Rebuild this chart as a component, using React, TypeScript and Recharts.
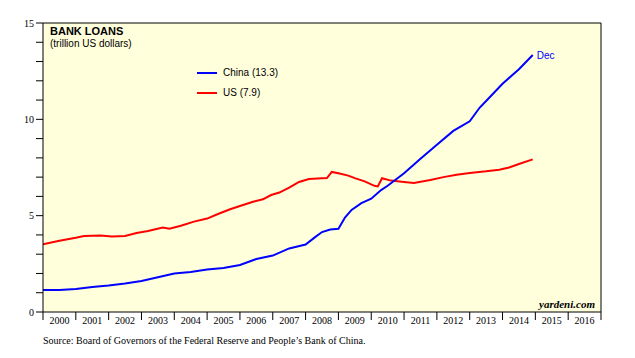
import React from 'react';
import {
  LineChart,
  Line,
  XAxis,
  YAxis,
  ReferenceArea,
  ReferenceLine,
  ReferenceDot,
} from 'recharts';

// Bank loans, trillion US dollars (decimal year -> value)
const chinaDates = [
  2000.0, 2000.5, 2001.0, 2001.5, 2002.0, 2002.5, 2003.0, 2003.5, 2004.0, 2004.5,
  2005.0, 2005.5, 2006.0, 2006.5, 2007.0, 2007.5, 2008.0, 2008.3, 2008.5, 2008.75,
  2009.0, 2009.2, 2009.4, 2009.7, 2010.0, 2010.3, 2010.5, 2011.0, 2011.5, 2012.0,
  2012.5, 2013.0, 2013.3, 2013.5, 2014.0, 2014.5, 2014.92,
];
const chinaLoans = [
  1.14, 1.14, 1.2, 1.3, 1.38, 1.48, 1.61, 1.8, 2.0, 2.08,
  2.2, 2.28, 2.44, 2.75, 2.93, 3.3, 3.5, 3.9, 4.15, 4.28,
  4.32, 4.9, 5.3, 5.65, 5.88, 6.33, 6.55, 7.2, 7.95, 8.68,
  9.4, 9.9, 10.6, 10.95, 11.85, 12.6, 13.34,
];

const usDates = [
  2000.0, 2000.5, 2001.0, 2001.25, 2001.75, 2002.1, 2002.5, 2002.85, 2003.2, 2003.65,
  2003.85, 2004.2, 2004.6, 2005.0, 2005.35, 2005.7, 2006.0, 2006.4, 2006.7, 2006.95,
  2007.2, 2007.5, 2007.8, 2008.1, 2008.5, 2008.65, 2008.8, 2009.0, 2009.3, 2009.5,
  2009.8, 2010.0, 2010.1, 2010.2, 2010.33, 2010.6, 2011.0, 2011.3, 2011.8, 2012.2,
  2012.6, 2013.0, 2013.5, 2013.9, 2014.2, 2014.5, 2014.92,
];
const usLoans = [
  3.52, 3.7, 3.85, 3.94, 3.97, 3.92, 3.95, 4.1, 4.2, 4.39,
  4.32, 4.48, 4.69, 4.85, 5.1, 5.33, 5.5, 5.72, 5.85, 6.07,
  6.2, 6.45, 6.75, 6.9, 6.94, 6.95, 7.27, 7.2, 7.08, 6.95,
  6.78, 6.62, 6.55, 6.52, 6.94, 6.82, 6.75, 6.7, 6.85, 7.0,
  7.12, 7.22, 7.3, 7.38, 7.5, 7.68, 7.92,
];

const yearTicks = [
  2000, 2001, 2002, 2003, 2004, 2005, 2006, 2007, 2008, 2009,
  2010, 2011, 2012, 2013, 2014, 2015, 2016, 2017,
];
const valueTicks = [0, 1, 2, 3, 4, 5, 6, 7, 8, 9, 10, 11, 12, 13, 14, 15];

const chinaData = chinaDates.map((t, i) => ({ t, v: chinaLoans[i] }));
const usData = usDates.map((t, i) => ({ t, v: usLoans[i] }));
const lastChina = chinaData[chinaData.length - 1];

const SANS = '"Liberation Sans", Arial, sans-serif';
const SERIF = '"Liberation Serif", "Times New Roman", serif';
const HALF_YEAR = 558 / 17 / 2;

const YearTick = (props: any) => {
  const { x, y, payload } = props;
  if (payload.value >= 2017) return null;
  return (
    <text x={x + HALF_YEAR} y={y + 4} textAnchor="middle" fontFamily={SERIF} fontSize={10} fill="#000">
      {payload.value}
    </text>
  );
};

const LeftTick = (props: any) => {
  const { x, y, payload } = props;
  if (payload.value % 5 !== 0) return null;
  return (
    <text x={x} y={y + 3.5} textAnchor="end" fontFamily={SERIF} fontSize={10} fill="#000">
      {payload.value}
    </text>
  );
};

const RightTick = (props: any) => {
  const { x, y, payload } = props;
  if (payload.value % 5 !== 0) return null;
  return (
    <text x={x} y={y + 3.5} textAnchor="start" fontFamily={SERIF} fontSize={10} fill="#000">
      {payload.value}
    </text>
  );
};

const App = () => {
  return (
    <div style={{ position: 'absolute', left: 0, top: 0, width: 635, height: 358, background: '#fff' }}>
      <LineChart width={635} height={358} margin={{ top: 23, right: 0, left: 0, bottom: 16 }}>
        <XAxis
          dataKey="t"
          type="number"
          domain={[2000, 2017]}
          ticks={yearTicks}
          interval={0}
          height={30}
          tickSize={8}
          tickMargin={0}
          stroke="#000"
          tickLine={{ stroke: '#000' }}
          tick={<YearTick />}
          allowDataOverflow
        />
        <YAxis
          yAxisId="left"
          domain={[0, 15]}
          ticks={valueTicks}
          interval={0}
          width={43}
          tickSize={7}
          tickMargin={2}
          stroke="#000"
          tick={<LeftTick />}
        />
        <YAxis
          yAxisId="right"
          orientation="right"
          domain={[0, 15]}
          ticks={valueTicks}
          interval={0}
          width={34}
          tickSize={7}
          tickMargin={2}
          stroke="#000"
          tick={<RightTick />}
        />
        <ReferenceArea
          yAxisId="left"
          x1={2000}
          x2={2017}
          y1={0}
          y2={15}
          fill="#FFFFDC"
          fillOpacity={1}
          stroke="none"
        />
        <ReferenceLine yAxisId="left" y={15} stroke="#000" strokeWidth={1} />
        <Line
          yAxisId="left"
          data={usData}
          dataKey="v"
          type="linear"
          stroke="#FF0000"
          strokeWidth={2}
          dot={false}
          isAnimationActive={false}
        />
        <Line
          yAxisId="left"
          data={chinaData}
          dataKey="v"
          type="linear"
          stroke="#0000FF"
          strokeWidth={2}
          dot={false}
          isAnimationActive={false}
        />
        <ReferenceDot
          yAxisId="left"
          x={lastChina.t}
          y={lastChina.v}
          r={0}
          fill="none"
          stroke="none"
          label={{ value: 'Dec', position: 'right', offset: 4, fill: '#0000FF', fontSize: 10, fontFamily: SANS }}
        />
      </LineChart>

      <div style={{ position: 'absolute', left: 50, top: 25, fontFamily: SANS, fontSize: 11, fontWeight: 'bold', lineHeight: '13px', color: '#000' }}>
        BANK LOANS
      </div>
      <div style={{ position: 'absolute', left: 50, top: 38, fontFamily: SANS, fontSize: 10, lineHeight: '12px', color: '#000' }}>
        (trillion US dollars)
      </div>

      <div style={{ position: 'absolute', left: 197, top: 72, width: 20, height: 2, background: '#0000FF' }} />
      <div style={{ position: 'absolute', left: 223, top: 67, fontFamily: SANS, fontSize: 10, lineHeight: '12px', color: '#000' }}>
        China (13.3)
      </div>
      <div style={{ position: 'absolute', left: 197, top: 92, width: 20, height: 2, background: '#FF0000' }} />
      <div style={{ position: 'absolute', left: 223, top: 87, fontFamily: SANS, fontSize: 10, lineHeight: '12px', color: '#000' }}>
        US (7.9)
      </div>

      <div style={{ position: 'absolute', right: 40, top: 298, fontFamily: SERIF, fontSize: 11, fontWeight: 'bold', fontStyle: 'italic', lineHeight: '13px', color: '#000' }}>
        yardeni.com
      </div>
      <div style={{ position: 'absolute', left: 43, top: 335, fontFamily: SERIF, fontSize: 10, lineHeight: '12px', color: '#000', whiteSpace: 'nowrap' }}>
        Source: Board of Governors of the Federal Reserve and People’s Bank of China.
      </div>
    </div>
  );
};

export default App;
